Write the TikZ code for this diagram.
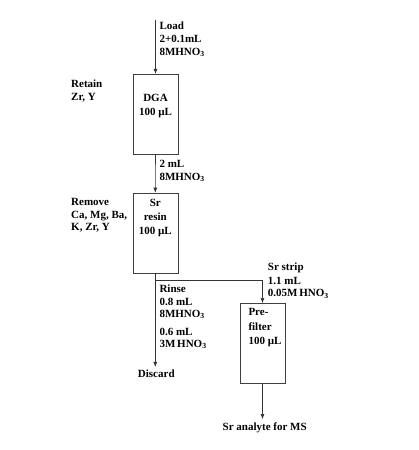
\documentclass[tikz,border=0pt]{standalone}
\usepackage{fontspec}
\setmainfont{Liberation Serif}
\usetikzlibrary{arrows.meta}
\usetikzlibrary{positioning}

\tikzset{
  column/.style={draw=black!75, line width=0.6pt, minimum width=45pt, minimum height=80pt, inner sep=0pt},
  note/.style={font=\bfseries\fontsize{11}{13}\selectfont, align=left, inner sep=0pt, anchor=base west},
  inbox/.style={font=\bfseries\fontsize{11}{14}\selectfont, align=center, inner sep=0pt, anchor=base},
  flow/.style={draw=black!80, line width=0.6pt, -{Latex[length=5pt,width=4pt]}},
}

\begin{document}
\begin{tikzpicture}[x=1pt,y=-1pt]
\useasboundingbox (0,0) rectangle (418,450);
\fill[white] (0,0) rectangle (418,450);

\node[column] (dga) at (155.5,114.2) {};
\node[column] (srres) at (155.3,233) {};
\node[column] (prefil) at (262.5,343.3) {};

\node[inbox] (dgatxt) at (155.5,115.7) {DGA\\100 µL};
\node[inbox] (srtxt) at (155.3,234.3) {Sr\\[-0.7pt]resin\\[0.3pt]100 µL};
\node[inbox, align=left, anchor=base west] (pretxt) at (248.3,344.3) {Pre-\\[1pt]filter\\[0.3pt]100 µL};

\coordinate (load) at (155.5,20);
\coordinate (split) at (155.3,280);

\node[note] (loadtxt) at (159.3,55) {Load\\2+0.1mL\\8MHNO\textsubscript{3}};
\node[note] (retain) at (71,100) {Retain\\Zr, Y};
\node[note] (wash) at (159.3,180) {2 mL\\8MHNO\textsubscript{3}};
\node[note] (remove) at (71,230.7) {Remove\\[0.3pt]Ca, Mg, Ba,\\[-0.6pt]K, Zr, Y};
\node[note] (rinse) at (159.3,347.3) {Rinse\\0.8 mL\\[-1.4pt]8MHNO\textsubscript{3}\\[5.4pt]0.6 mL\\[-1.4pt]3M\,HNO\textsubscript{3}};
\node[note] (strip) at (267.7,296.7) {Sr strip\\[1.3pt]1.1 mL\\[-0.6pt]0.05M\,HNO\textsubscript{3}};
\node[note, anchor=base] (discard) at (156.3,377.7) {Discard};
\node[note, anchor=base] (analyte) at (264.7,430) {Sr analyte for MS};

\draw[flow] (load) -- (dga.north);
\draw[flow] (dga.south) -- (srres.north);
\draw[flow] (srres.south) -- ([yshift=3pt]discard.north -| srres.south);
\draw[flow] (split) -| (prefil.north);
\draw[flow] (prefil.south) -- ([yshift=3pt]analyte.north -| prefil.south);

\end{tikzpicture}
\end{document}
